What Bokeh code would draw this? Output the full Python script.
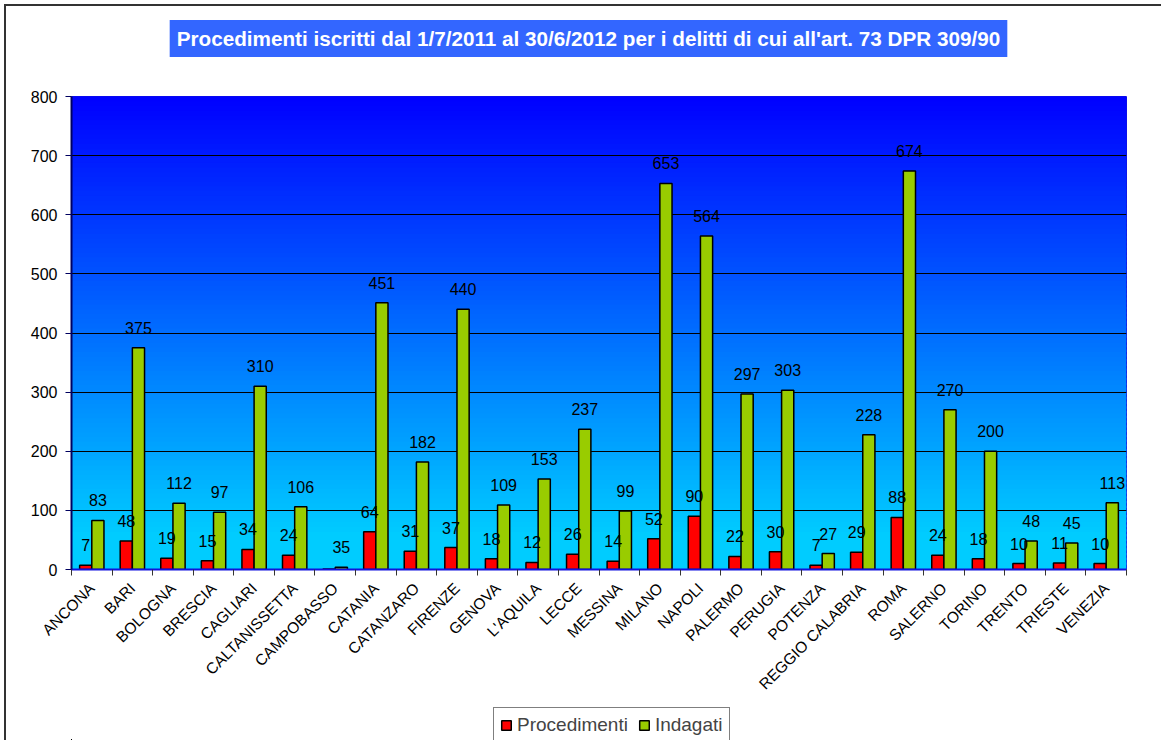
import numpy as np
from bokeh.plotting import figure
from bokeh.layouts import column
from bokeh.models import (ColumnDataSource, FixedTicker, Label, Legend, LegendItem, Range1d)
from bokeh.core.properties import value
from bokeh.embed import file_html
from bokeh.resources import INLINE

# ---- data ----
cities = ["ANCONA", "BARI", "BOLOGNA", "BRESCIA", "CAGLIARI", "CALTANISSETTA",
          "CAMPOBASSO", "CATANIA", "CATANZARO", "FIRENZE", "GENOVA", "L'AQUILA",
          "LECCE", "MESSINA", "MILANO", "NAPOLI", "PALERMO", "PERUGIA", "POTENZA",
          "REGGIO CALABRIA", "ROMA", "SALERNO", "TORINO", "TRENTO", "TRIESTE", "VENEZIA"]
procedimenti = [7, 48, 19, 15, 34, 24, 1, 64, 31, 37, 18, 12, 26, 14, 52, 90, 22, 30, 7,
                29, 88, 24, 18, 10, 11, 10]
indagati = [83, 375, 112, 97, 310, 106, 4, 451, 182, 440, 109, 153, 237, 99, 653, 564,
            297, 303, 27, 228, 674, 270, 200, 48, 45, 113]
proc_labels = ["7", "48", "19", "15", "34", "24", "", "64", "31", "37", "18", "12", "26",
               "14", "52", "90", "22", "30", "7", "29", "88", "24", "18", "10", "11", "10"]
ind_labels = ["83", "375", "112", "97", "310", "106", "35", "451", "182", "440", "109",
              "153", "237", "99", "653", "564", "297", "303", "27", "228", "674", "270",
              "200", "48", "45", "113"]
y_ticks = [0, 100, 200, 300, 400, 500, 600, 700, 800]
series_names = ["Procedimenti", "Indagati"]
title_text = "Procedimenti iscritti dal 1/7/2011 al 30/6/2012 per i delitti di cui all'art. 73 DPR 309/90"

n = len(cities)
centers = [i + 0.5 for i in range(n)]
src = ColumnDataSource(dict(
    xr=[c - 0.15 for c in centers], xg=[c + 0.15 for c in centers],
    proc=procedimenti, ind=indagati, pl=proc_labels, il=ind_labels,
))

RED = "#FF0000"
GREEN = "#99CC00"
BORDER = "2px solid #333333"

# ---- title strip ----
p0 = figure(width=1157, height=60, output_backend="svg", toolbar_location=None,
            x_range=Range1d(0, 1055), y_range=Range1d(0, 60),
            x_axis_type=None, y_axis_type=None, min_border=0)
p0.styles = {"border-left": BORDER, "border-top": BORDER,
             "margin-left": "4px", "margin-top": "4px"}
p0.outline_line_color = None
p0.xgrid.grid_line_color = None
p0.ygrid.grid_line_color = None
p0.add_layout(Label(x=517, y=28, x_units="screen", y_units="screen", text=title_text,
                    text_align="center", text_baseline="middle", text_color="white",
                    text_font="Liberation Sans", text_font_style="bold",
                    text_font_size="20.7px", background_fill_color="#3366FF", padding=7))

# ---- main chart ----
p = figure(width=1157, height=640, output_backend="svg", toolbar_location=None,
           x_range=Range1d(0, n), y_range=Range1d(0, 800),
           min_border_left=65, min_border_right=37, min_border_top=32, min_border_bottom=135)
p.styles = {"border-left": BORDER, "margin-left": "4px"}
p.background_fill_color = "white"
p.outline_line_color = "#1010E0"

# gradient background (styling only)
steps = 100
edges = np.linspace(0, 800, steps + 1)
cols = []
for k in range(steps):
    mid = (edges[k] + edges[k + 1]) / 2
    t = min(max((800 - mid) / 740.0, 0), 1)
    g = int(0 + t * 204)
    cols.append("#%02x%02x%02x" % (0, g, 255))
p.quad(left=0, right=n, bottom=edges[:-1], top=edges[1:] + 4, fill_color=cols,
       line_color=None, level="image")

rr = p.vbar(x="xr", top="proc", width=0.3, source=src, fill_color=RED,
            line_color="black", line_width=1.5)
rg = p.vbar(x="xg", top="ind", width=0.3, source=src, fill_color=GREEN,
            line_color="black", line_width=1.5)

p.text(x="xr", y="proc", text="pl", source=src, text_align="center", text_baseline="middle",
       y_offset=-20, text_font=value("Liberation Sans"), text_font_size="16px", text_color="black")
p.text(x="xg", y="ind", text="il", source=src, text_align="center", text_baseline="middle",
       y_offset=-20, text_font=value("Liberation Sans"), text_font_size="16px", text_color="black")

# grid
p.xgrid.grid_line_color = None
p.ygrid.grid_line_color = "black"
p.ygrid.grid_line_width = 1
p.ygrid.ticker = FixedTicker(ticks=y_ticks)

# axes
p.yaxis.ticker = FixedTicker(ticks=y_ticks)
p.yaxis.axis_line_color = "#000060"
p.yaxis.axis_line_width = 2
p.yaxis.major_tick_line_color = "#000060"
p.yaxis.major_tick_out = 6
p.yaxis.major_tick_in = 0
p.yaxis.minor_tick_line_color = None
p.yaxis.major_label_text_font = "Liberation Sans"
p.yaxis.major_label_text_font_size = "16px"
p.yaxis.major_label_text_color = "black"
p.yaxis.major_label_standoff = 8

p.xaxis.ticker = FixedTicker(ticks=centers, minor_ticks=list(range(n + 1)))
p.xaxis.major_label_overrides = {c: name for c, name in zip(centers, cities)}
p.xaxis.major_tick_line_color = None
p.xaxis.minor_tick_line_color = "#333333"
p.xaxis.minor_tick_out = 6
p.xaxis.minor_tick_in = 0
p.xaxis.axis_line_color = "#1010E0"
p.xaxis.axis_line_width = 2
p.xaxis.major_label_orientation = np.pi / 4
p.xaxis.major_label_text_font = "Liberation Sans"
p.xaxis.major_label_text_font_size = "15.5px"
p.xaxis.major_label_text_color = "black"
p.xaxis.major_label_standoff = 10

# ---- legend strip (glyphs share the series source, kept outside the visible range) ----
p2 = figure(width=1157, height=36, output_backend="svg", toolbar_location=None,
            x_range=Range1d(1000, 1026), y_range=Range1d(5000, 6000),
            x_axis_type=None, y_axis_type=None, min_border=0)
p2.styles = {"border-left": BORDER, "margin-left": "4px"}
p2.outline_line_color = None
p2.xgrid.grid_line_color = None
p2.ygrid.grid_line_color = None
lr = p2.vbar(x="xr", top="proc", width=0.3, source=src, fill_color=RED,
             line_color="black", line_width=1.5)
lg = p2.vbar(x="xg", top="ind", width=0.3, source=src, fill_color=GREEN,
             line_color="black", line_width=1.5)
legend = Legend(items=[LegendItem(label=series_names[0], renderers=[lr]),
                       LegendItem(label=series_names[1], renderers=[lg])],
                orientation="horizontal", location=(422, -3),
                border_line_color="black", border_line_width=1,
                background_fill_color="white", background_fill_alpha=1,
                label_text_font="Liberation Sans", label_text_font_size="19px",
                glyph_width=12, glyph_height=12, padding=6, spacing=10,
                label_standoff=5, margin=0)
p2.add_layout(legend, "center")

layout = column(p0, p, p2, spacing=0)
open("out.html", "w").write(file_html(layout, INLINE))
